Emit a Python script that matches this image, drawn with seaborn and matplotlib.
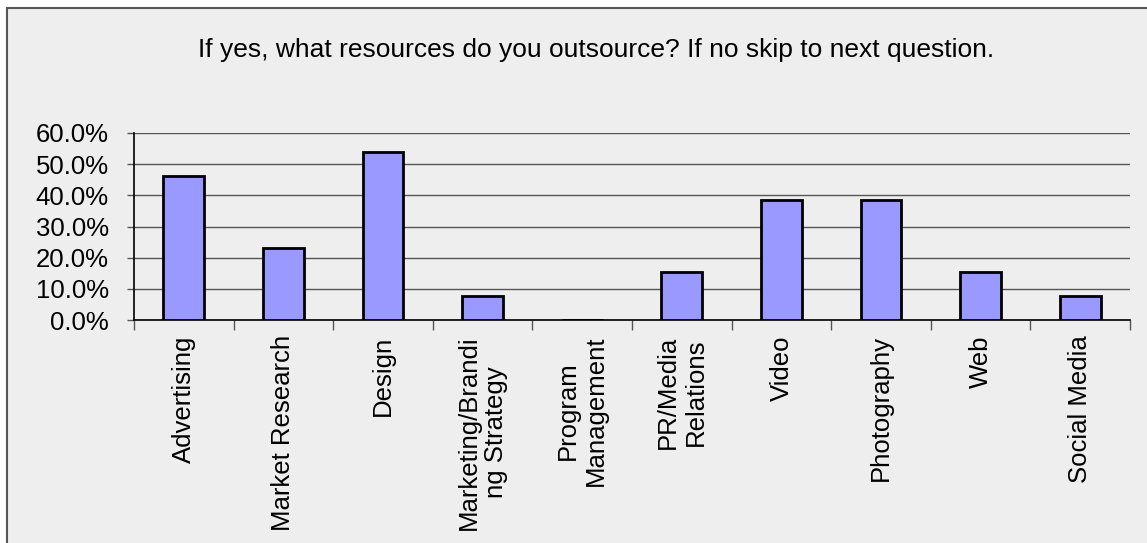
import matplotlib
matplotlib.use("Agg")
import matplotlib.pyplot as plt
import matplotlib.patches as mpatches
from matplotlib.ticker import FixedLocator, PercentFormatter
from matplotlib import font_manager
import seaborn as sns
import pandas as pd

categories = ["Advertising", "Market Research", "Design", "Marketing/Brandi\nng Strategy",
              "Program\nManagement", "PR/Media\nRelations", "Video", "Photography", "Web",
              "Social Media"]
values = [46.2, 23.1, 53.8, 7.7, 0.0, 15.4, 38.5, 38.5, 15.4, 7.7]
yticks = [0, 10, 20, 30, 40, 50, 60]
title = "If yes, what resources do you outsource? If no skip to next question."

sns.set_theme(style="white")
plt.rcParams['font.family'] = ['Liberation Sans', 'DejaVu Sans']

names = {f.name for f in font_manager.fontManager.ttflist}
title_font = 'Liberation Sans Narrow' if 'Liberation Sans Narrow' in names else 'Liberation Sans'

W, H = 1147, 543
fig = plt.figure(figsize=(W / 100, H / 100), dpi=100)
fig.patch.set_facecolor('white')
frame = mpatches.Rectangle((7.5 / W, -0.1), 1.2, (H - 8) / H + 0.1, transform=fig.transFigure,
                           facecolor='#EEEEEE', edgecolor='#555555', linewidth=1.5, zorder=-10)
fig.patches.append(frame)

ax = fig.add_axes([134 / W, 1 - 320 / H, (1130 - 134) / W, (320 - 133) / H])
ax.set_facecolor('none')
ax.set_zorder(5)

df = pd.DataFrame({"cat": categories, "val": values})
sns.barplot(data=df, x="cat", y="val", color="#9999FF", edgecolor="black", linewidth=2,
            width=0.41, saturation=1, ax=ax, zorder=3)

ax.set_xlim(-0.5, len(categories) - 0.5)
ax.set_ylim(0, 60)
ax.yaxis.set_major_locator(FixedLocator(yticks))
ax.yaxis.set_major_formatter(PercentFormatter(decimals=1))
ax.grid(axis='y', color='#555555', linewidth=1, zorder=0)
ax.set_axisbelow(True)

for s in ['top', 'right']:
    ax.spines[s].set_visible(False)
for s in ['left', 'bottom']:
    ax.spines[s].set_color('black')
    ax.spines[s].set_linewidth(1.2)

ax.set_xlabel("")
ax.set_ylabel("")
ax.tick_params(axis='y', which='major', direction='out', length=5, width=1, color='#555555',
               labelsize=18.5, labelcolor='black', pad=13, left=True)
ax.set_xticks(range(len(categories)))
ax.set_xticklabels(categories, rotation=90, ha='center', va='top', multialignment='center',
                   fontsize=18.5)
ax.tick_params(axis='x', which='major', length=0, pad=11, labelcolor='black')
ax.set_xticks([i - 0.5 for i in range(len(categories) + 1)], minor=True)
ax.tick_params(axis='x', which='minor', direction='out', length=7, width=1, color='#555555',
               bottom=True)

fig.text(596 / W, 1 - 50 / H, title, ha='center', va='center', fontsize=19,
         family=[title_font, 'DejaVu Sans'], color='black')

fig.savefig("out.png", dpi=100)
